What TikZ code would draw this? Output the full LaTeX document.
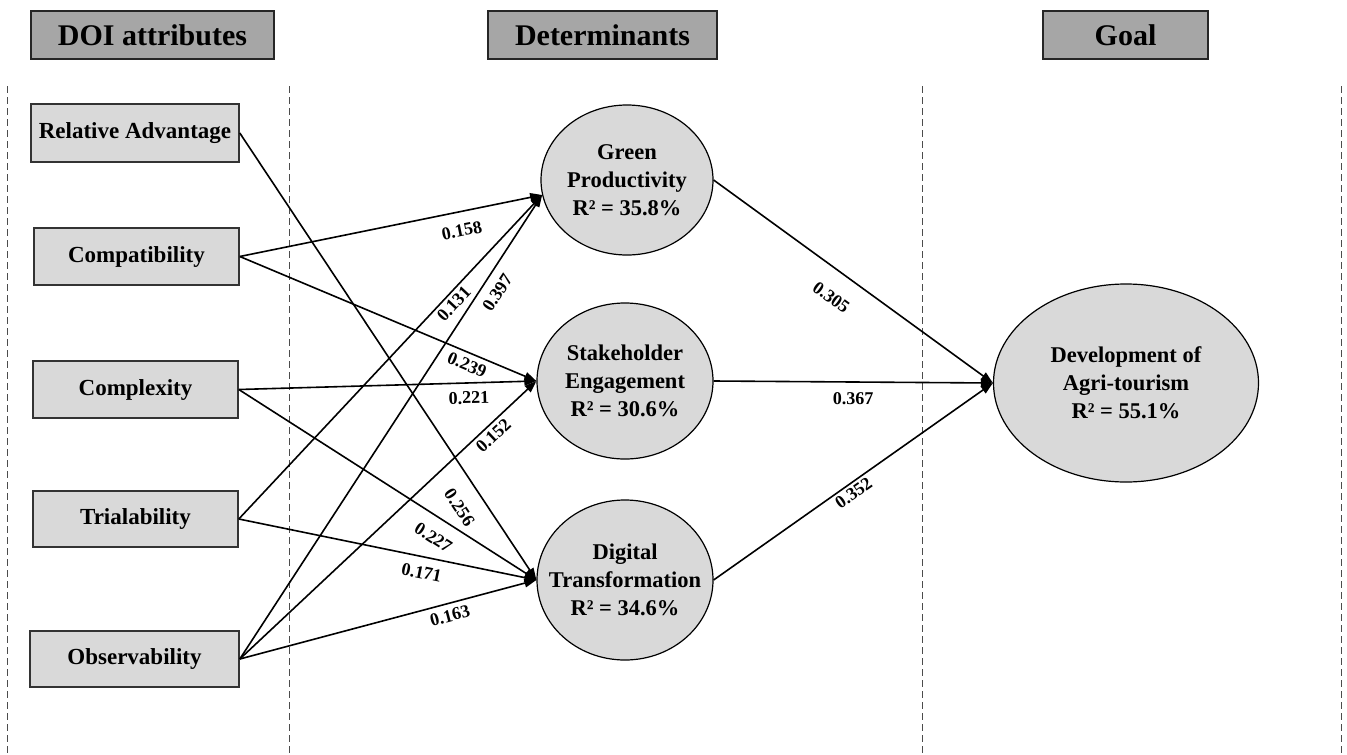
\documentclass[tikz,border=0pt]{standalone}
\usepackage{fontspec}
\setmainfont{Liberation Serif}
\usetikzlibrary{shapes.geometric,arrows.meta}
\definecolor{hdrgray}{HTML}{A6A6A6}
\definecolor{boxgray}{HTML}{D9D9D9}
\begin{document}
\begin{tikzpicture}[x=1pt,y=-1pt,
  header/.style={draw=black!85, line width=1.6pt, fill=hdrgray, minimum height=48pt,
    inner sep=0pt, font=\fontsize{30}{30}\selectfont\bfseries},
  attr/.style={draw=black!80, line width=1.6pt, fill=boxgray, minimum height=57pt,
    inner sep=0pt, font=\fontsize{23}{23}\selectfont\bfseries},
  construct/.style={ellipse, draw=black, line width=1.2pt, fill=boxgray, inner sep=-22pt,
    align=center, font=\fontsize{22.5}{28}\selectfont\bfseries},
  link/.style={line width=1.6pt, -{Triangle[length=12pt,width=8.5pt]}},
  coef/.style={font=\fontsize{18}{18}\selectfont\bfseries, inner sep=1pt, sloped},
  divider/.style={draw=black!70, line width=0.8pt, dash pattern=on 7pt off 4pt}
]
\useasboundingbox (0,0) rectangle (1347,755);

% column dividers
\draw[divider] (7,86) -- (7,755);
\draw[divider] (289,86) -- (289,755);
\draw[divider] (922,86) -- (922,755);
\draw[divider] (1341,86) -- (1341,755);

% column headings
\node[header, minimum width=243pt] (hdoi) at (152.5,35) {DOI attributes};
\node[header, minimum width=229pt] (hdet) at (602.5,35) {Determinants};
\node[header, minimum width=165pt] (hgoal) at (1125.5,35) {Goal};

% innovation attributes
\node[attr, minimum width=208pt, minimum height=58pt] (ra) at (135,133) {Relative Advantage};
\node[attr, minimum width=205pt] (cp) at (136.5,256.5) {Compatibility};
\node[attr, minimum width=205pt] (cx) at (135.5,389.5) {Complexity};
\node[attr, minimum width=205pt, minimum height=56pt] (tr) at (135.5,519) {Trialability};
\node[attr, minimum width=209pt, minimum height=56pt] (ob) at (134.5,659) {Observability};

% determinants and goal
\node[construct, minimum width=172pt, minimum height=150pt] (gp) at (627,180)
  {Green\\Productivity\\R² = 35.8\%};
\node[construct, minimum width=176pt, minimum height=156pt] (sh) at (625,381)
  {Stakeholder\\Engagement\\R² = 30.6\%};
\node[construct, minimum width=176pt, minimum height=160pt] (dt) at (625,580)
  {Digital\\Transformation\\R² = 34.6\%};
\node[construct, minimum width=265pt, minimum height=198pt] (dev) at (1126,383)
  {Development of\\Agri-tourism\\R² = 55.1\%};

% paths into the determinants
\draw[link] (ra.east) -- node[coef, below=16pt, pos=0.808] {0.256} (dt.west);
\draw[link] (cp.east) -- node[coef, below=11pt, pos=0.722] {0.158} (gp.190);
\draw[link] (cp.east) -- node[coef, below=4pt, pos=0.782] {0.239} (sh.west);
\draw[link] (cx.east) -- node[coef, below=7pt, pos=0.772] {0.221} (sh.west);
\draw[link] (cx.east) -- node[coef, below=12pt, pos=0.690] {0.227} (dt.west);
\draw[link] (tr.east) -- node[coef, below=2pt, pos=0.685] {0.131} (gp.190);
\draw[link] (tr.east) -- node[coef, below=8pt, pos=0.625] {0.171} (dt.west);
\draw[link] (ob.east) -- node[coef, below=8pt, pos=0.808] {0.397} (gp.190);
\draw[link] (ob.east) -- node[coef, below=2.5pt, pos=0.831] {0.152} (sh.west);
\draw[link] (ob.east) -- node[coef, below=4.5pt, pos=0.698] {0.163} (dt.west);

% paths into the goal
\draw[link] (gp.east) -- node[coef, below=18pt, pos=0.476] {0.305} (dev.west);
\draw[link] (sh.east) -- node[coef, below=9pt, pos=0.5] {0.367} (dev.west);
\draw[link] (dt.east) -- node[coef, below=1.5pt, pos=0.482] {0.352} (dev.west);
\end{tikzpicture}
\end{document}
